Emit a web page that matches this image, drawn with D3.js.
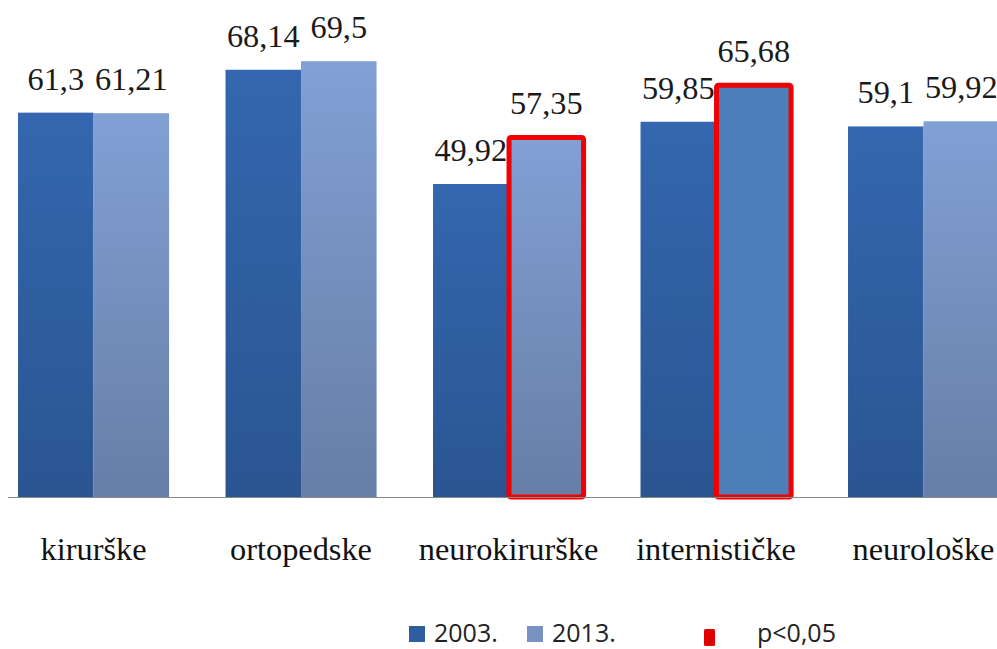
<!DOCTYPE html>
<html>
<head>
<meta charset="utf-8">
<script src="https://cdn.jsdelivr.net/npm/d3@7"></script>
<style>
  body { margin: 0; background: #fff; }
  svg { display: block; }
  .serif { font-family: "Liberation Serif", "Tinos", "Noto Serif", "DejaVu Serif", "Times New Roman", serif; }
  .sans { font-family: "Open Sans", "DejaVu Sans", sans-serif; }
</style>
</head>
<body>
<div id="chart"></div>
<script>
// data
var categories = ["kirurške", "ortopedske", "neurokirurške", "internističke", "neurološke"];
var series = ["2003.", "2013."];
var values2003 = [61.3, 68.14, 49.92, 59.85, 59.1];
var values2013 = [61.21, 69.5, 57.35, 65.68, 59.92];
var labels2003 = ["61,3", "68,14", "49,92", "59,85", "59,1"];
var labels2013 = ["61,21", "69,5", "57,35", "65,68", "59,92"];
var significant = ["neurokirurške", "internističke"];
var legendNote = "p<0,05";

var width = 997, height = 649;
var baseY = 497;

var svg = d3.select("#chart").append("svg")
	.attr("width", width)
	.attr("height", height);

var defs = svg.append("defs");
function gradient(id, top, bottom) {
	var g = defs.append("linearGradient")
		.attr("id", id)
		.attr("x1", 0).attr("y1", 0).attr("x2", 0).attr("y2", 1);
	g.append("stop").attr("offset", "0%").attr("stop-color", top);
	g.append("stop").attr("offset", "100%").attr("stop-color", bottom);
}
gradient("g2003", "#3467AF", "#2A5591");
gradient("g2013", "#81A0D4", "#677EA6");
gradient("gSig", "#4E7FBD", "#4E7EB8");

var x = d3.scaleBand()
	.domain(categories)
	.range([-10.2, -10.2 + 5 * 207.5])
	.paddingInner(0.272)
	.paddingOuter(0.136);

var xs = d3.scaleBand()
	.domain(series)
	.range([0, x.bandwidth()]);

var y = d3.scaleLinear()
	.domain([0, 80])
	.range([baseY, baseY - 80 * 6.27]);

var rows = categories.map(function (c, i) {
	return { cat: c, vals: [values2003[i], values2013[i]], labs: [labels2003[i], labels2013[i]] };
});

var groups = svg.selectAll("g.grp")
	.data(rows)
	.enter()
	.append("g")
	.attr("class", "grp")
	.attr("transform", function (d) { return "translate(" + x(d.cat) + ",0)"; });

var bars = groups.selectAll("g.bar")
	.data(function (d) {
		return series.map(function (s, j) {
			return { cat: d.cat, s: s, j: j, v: d.vals[j], lab: d.labs[j] };
		});
	})
	.enter()
	.append("g")
	.attr("class", "bar");

bars.append("rect")
	.attr("x", function (d) { return xs(d.s); })
	.attr("y", function (d) { return y(d.v); })
	.attr("width", xs.bandwidth())
	.attr("height", function (d) { return y(0) - y(d.v); })
	.attr("fill", function (d) {
		if (d.j == 1 && d.cat == "internističke") { return "url(#gSig)"; }
		return d.j == 0 ? "url(#g2003)" : "url(#g2013)";
	});

// red outline for significant differences (2013 bar)
bars.filter(function (d) { return d.j == 1 && significant.indexOf(d.cat) >= 0; })
	.append("rect")
	.attr("x", function (d) { return xs(d.s) + 0.5; })
	.attr("y", function (d) { return y(d.v); })
	.attr("width", xs.bandwidth() - 1)
	.attr("height", function (d) { return y(0) - y(d.v); })
	.attr("rx", 2)
	.attr("fill", "none")
	.attr("stroke", "#F00000")
	.attr("stroke-width", 5);

var valueLabels = bars.append("text")
	.attr("class", "serif")
	.attr("x", function (d) { return xs(d.s) + xs.bandwidth() / 2; })
	.attr("y", function (d) { return y(d.v) - 23; })
	.attr("text-anchor", "middle")
	.attr("font-size", "31px")
	.attr("fill", "#1a1a1a")
	.text(function (d) { return d.lab; });

// axis line
svg.append("line")
	.attr("x1", 8).attr("x2", width)
	.attr("y1", baseY + 0.5).attr("y2", baseY + 0.5)
	.attr("stroke", "#8a8a8a")
	.attr("stroke-width", 1.2);

// category labels
var catLabels = svg.selectAll("text.cat")
	.data(categories)
	.enter()
	.append("text")
	.attr("class", "cat serif")
	.attr("x", function (d) { return x(d) + x.bandwidth() / 2; })
	.attr("y", 560)
	.attr("text-anchor", "middle")
	.attr("font-size", "31px")
	.attr("fill", "#111")
	.text(function (d) { return d; });

// fit serif size so "kirurške" is about 106px wide, whatever font got picked
var w0 = catLabels.node().getComputedTextLength();
if (w0 > 0) {
	var fs = Math.max(22, Math.min(34, 31 * 106 / w0));
	catLabels.attr("font-size", fs + "px");
	valueLabels.attr("font-size", fs + "px");
}

// legend
var lg = svg.append("g").attr("class", "sans").attr("font-size", "25px").attr("fill", "#222");
var legendItems = [
	{ label: series[0], fill: "#2F5E9E", x: 409 },
	{ label: series[1], fill: "#7892C2", x: 527 }
];
legendItems.forEach(function (it) {
	lg.append("rect").attr("x", it.x).attr("y", 626).attr("width", 16).attr("height", 16).attr("fill", it.fill);
	lg.append("text").attr("x", it.x + 25).attr("y", 642).text(it.label);
});
lg.append("rect").attr("x", 704).attr("y", 629).attr("width", 11).attr("height", 17).attr("rx", 1.5).attr("fill", "#E00000");
lg.append("text").attr("x", 757).attr("y", 642).text(legendNote);
</script>
</body>
</html>
